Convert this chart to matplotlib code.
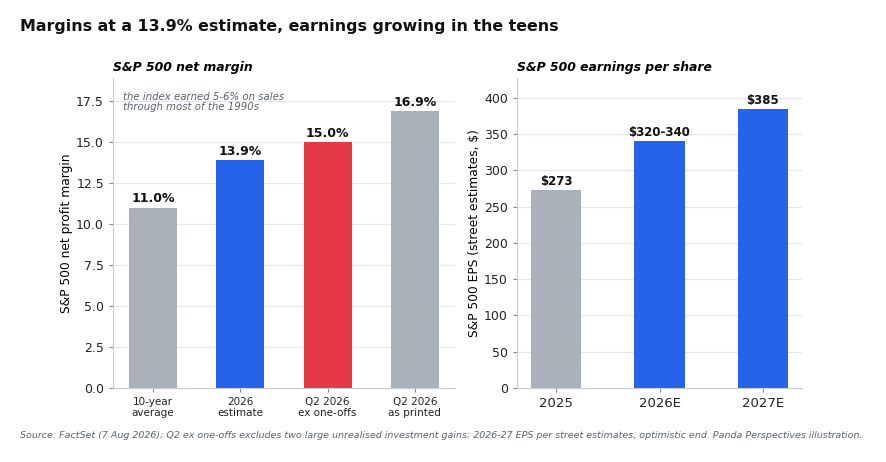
import matplotlib
matplotlib.use("Agg")
import matplotlib.pyplot as plt

margin_cats = ["10-year\naverage", "2026\nestimate", "Q2 2026\nex one-offs", "Q2 2026\nas printed"]
margin_vals = [11.0, 13.9, 15.0, 16.9]
margin_labels = ["11.0%", "13.9%", "15.0%", "16.9%"]
margin_colors = ["#aab1bb", "#2563eb", "#e63946", "#aab1bb"]

eps_cats = ["2025", "2026E", "2027E"]
eps_vals = [273, 340, 385]
eps_labels = ["$273", "$320-340", "$385"]
eps_colors = ["#aab1bb", "#2563eb", "#2563eb"]

plt.rcParams["font.family"] = "DejaVu Sans"


def style_axes(ax):
    for side in ["top", "right"]:
        ax.spines[side].set_visible(False)
    for side in ["left", "bottom"]:
        ax.spines[side].set_color("#c8ccd2")
    ax.grid(axis="y", color="#e3e6ec", linewidth=0.8)
    ax.set_axisbelow(True)
    ax.tick_params(colors="#222222", length=3)
    ax.tick_params(axis="both", color="#888888")


def main():
    fig = plt.figure(figsize=(8.86, 4.62), dpi=100)
    ax1 = fig.add_axes([113 / 886, 1 - 388 / 462, 342 / 886, 310 / 462])
    ax2 = fig.add_axes([517 / 886, 1 - 388 / 462, 285 / 886, 310 / 462])

    x1 = range(len(margin_vals))
    ax1.bar(x1, margin_vals, width=0.55, color=margin_colors)
    for i, v in enumerate(margin_vals):
        ax1.text(i, v + 0.15, margin_labels[i], ha="center", va="bottom",
                 fontsize=9, fontweight="bold", color="#111111")
    ax1.set_xticks(list(x1))
    ax1.set_xticklabels(margin_cats, fontsize=7.5, linespacing=1.1)
    ax1.set_ylim(0, 18.93)
    ax1.set_xlim(-0.46, 3.46)
    ax1.set_ylabel("S&P 500 net profit margin", fontsize=8.8, labelpad=2)
    ax1.tick_params(axis="y", labelsize=9)
    ax1.set_title("S&P 500 net margin", loc="left", fontsize=8.9,
                  fontweight="bold", style="italic", pad=5)
    ax1.text(0.03, 0.955, "the index earned 5-6% on sales\nthrough most of the 1990s",
             transform=ax1.transAxes, ha="left", va="top", fontsize=7.25,
             style="italic", color="#5a6270", linespacing=1.05)
    style_axes(ax1)

    x2 = range(len(eps_vals))
    ax2.bar(x2, eps_vals, width=0.49, color=eps_colors)
    for i, v in enumerate(eps_vals):
        ax2.text(i, v + 3, eps_labels[i], ha="center", va="bottom",
                 fontsize=8.5, fontweight="bold", color="#111111")
    ax2.set_xticks(list(x2))
    ax2.set_xticklabels(eps_cats, fontsize=9.5)
    ax2.set_ylim(0, 427.4)
    ax2.set_xlim(-0.377, 2.377)
    ax2.set_ylabel("S&P 500 EPS (street estimates, $)", fontsize=8.8, labelpad=2)
    ax2.tick_params(axis="y", labelsize=9)
    ax2.set_title("S&P 500 earnings per share", loc="left", fontsize=8.9,
                  fontweight="bold", style="italic", pad=5)
    style_axes(ax2)

    fig.text(20 / 886, 1 - 27 / 462, "Margins at a 13.9% estimate, earnings growing in the teens",
             fontsize=11.4, fontweight="bold", color="#111111", va="center", ha="left")
    fig.text(20 / 886, 1 - 436 / 462,
             "Source: FactSet (7 Aug 2026); Q2 ex one-offs excludes two large unrealised investment gains; "
             "2026-27 EPS per street estimates, optimistic end. Panda Perspectives illustration.",
             fontsize=6.8, style="italic", color="#5a6270", va="center", ha="left")

    fig.savefig("out.png", dpi=100)


if __name__ == "__main__":
    main()
